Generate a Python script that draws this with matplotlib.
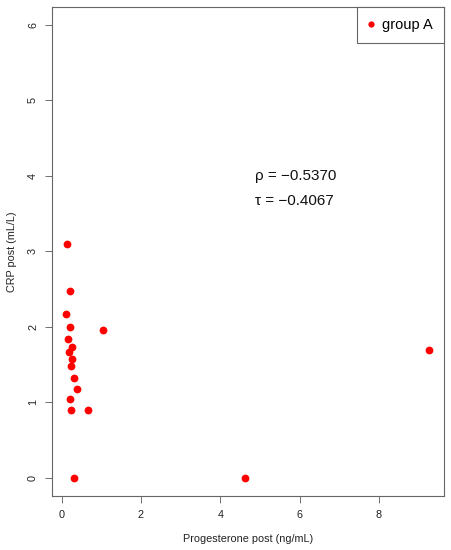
import numpy as np
import matplotlib
matplotlib.use('Agg')
import matplotlib.pyplot as plt

matplotlib.rcParams.update({'font.family': ['Liberation Sans', 'DejaVu Sans']})

##################################################################
# progesterone post (ng/mL) vs CRP post (mL/L), group A
prog = [0.14, 0.22, 0.12, 0.22, 1.05, 0.17, 0.27, 0.19, 0.26, 0.24,
        0.31, 0.38, 0.22, 0.23, 0.66, 0.30, 4.63, 9.27]
crp = [3.09, 2.47, 2.17, 2.00, 1.96, 1.84, 1.73, 1.67, 1.57, 1.48,
       1.32, 1.18, 1.05, 0.90, 0.90, 0.00, 0.00, 1.69]
rho = -0.5370
tau = -0.4067

xticks = [0, 2, 4, 6, 8]
yticks = [0, 1, 2, 3, 4, 5, 6]
##################################################################

fig = plt.figure(figsize=[4.52, 5.5], dpi=100)
ax = fig.add_axes([0.115, 0.098, 0.867, 0.889])

ax.plot(prog, crp, 'o', color='#ff0000', ms=5.6, mew=0, label='group A')

ax.set_xlim(-0.245, 9.64)
ax.set_ylim(-0.24, 6.23)
ax.set_xticks(xticks)
ax.set_yticks(yticks)
ax.tick_params(direction='out', length=5, width=0.7, color='#707070',
               labelsize=7.8, labelcolor='#222222', pad=5)
for lab in ax.get_yticklabels():
    lab.set_rotation(90)
    lab.set_va('center')
for sp in ax.spines.values():
    sp.set_color('#666666')
    sp.set_linewidth(0.8)

ax.set_xlabel('Progesterone post (ng/mL)', fontsize=7.8, color='#222222', labelpad=10)
ax.set_ylabel('CRP post (mL/L)', fontsize=7.8, color='#222222', labelpad=8)

ax.text(4.87, 3.99, 'ρ = −%.4f' % abs(rho), fontsize=11, va='center', ha='left', color='#111111')
ax.text(4.87, 3.67, 'τ = −%.4f' % abs(tau), fontsize=11, va='center', ha='left', color='#111111')

leg = ax.legend(loc='upper right', borderaxespad=0, fancybox=False, framealpha=1,
                edgecolor='#666666', fontsize=10.5, handlelength=0.4, handletextpad=0.6,
                borderpad=0.75, markerscale=0.8)
leg.get_frame().set_linewidth(0.8)

fig.savefig('out.png', dpi=100)
